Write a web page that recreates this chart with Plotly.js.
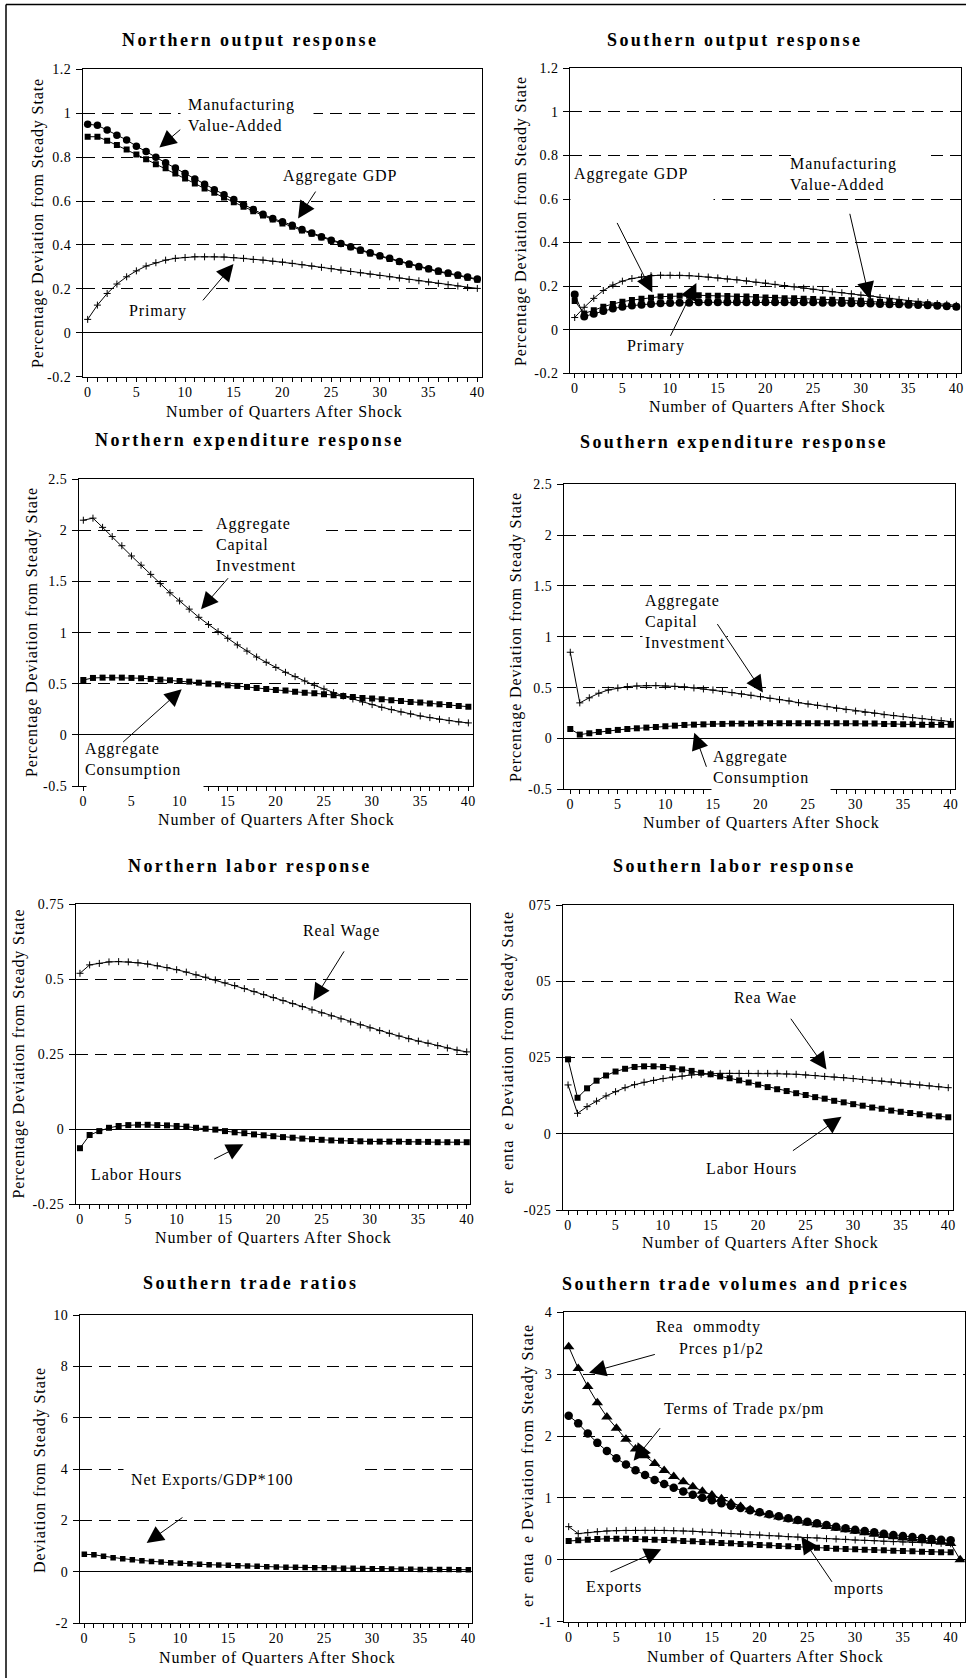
<!DOCTYPE html>
<html>
<head>
<meta charset="utf-8">
<script src="https://cdn.plot.ly/plotly-3.0.1.min.js"></script>
<style>
html,body{margin:0;padding:0;background:#fff;}
#chart{width:966px;height:1678px;}
text.annotation-text{letter-spacing:0.9px;}
text.annotation-text[style*="font-size: 18px"]{letter-spacing:2.4px;}
g[class$="tick"] > text{letter-spacing:0.5px;}
</style>
</head>
<body>
<div id="chart"></div>
<script>
// ---------------- DATA ----------------
const quarters = [0,1,2,3,4,5,6,7,8,9,10,11,12,13,14,15,16,17,18,19,20,21,22,23,24,25,26,27,28,29,30,31,32,33,34,35,36,37,38,39,40];
const quarters41 = [0,1,2,3,4,5,6,7,8,9,10,11,12,13,14,15,16,17,18,19,20,21,22,23,24,25,26,27,28,29,30,31,32,33,34,35,36,37,38,39,40,41];
const xTickVals = [0,5,10,15,20,25,30,35,40];
const xTickText = ['0','5','10','15','20','25','30','35','40'];

// Northern output response
const northMfgVA = [0.95,0.945,0.923,0.90,0.878,0.85,0.826,0.80,0.774,0.75,0.726,0.70,0.677,0.651,0.629,0.607,0.583,0.562,0.54,0.52,0.506,0.49,0.47,0.455,0.437,0.422,0.407,0.392,0.377,0.364,0.351,0.339,0.325,0.313,0.302,0.292,0.281,0.272,0.263,0.254,0.245];
const northGDP = [0.893,0.893,0.875,0.855,0.835,0.812,0.79,0.768,0.749,0.726,0.703,0.68,0.657,0.638,0.616,0.595,0.574,0.554,0.534,0.516,0.498,0.483,0.466,0.451,0.434,0.419,0.404,0.389,0.374,0.361,0.348,0.336,0.322,0.31,0.299,0.289,0.278,0.269,0.26,0.251,0.242];
const northPrimary = [0.061,0.126,0.179,0.222,0.255,0.282,0.304,0.319,0.331,0.339,0.343,0.346,0.346,0.346,0.345,0.342,0.339,0.334,0.331,0.326,0.322,0.316,0.31,0.304,0.298,0.292,0.285,0.279,0.273,0.267,0.261,0.255,0.249,0.243,0.237,0.231,0.225,0.219,0.213,0.206,0.202];
const nOutTickVals = [-0.2,0,0.2,0.4,0.6,0.8,1,1.2];
const nOutTickText = ['-0.2','0','0.2','0.4','0.6','0.8','1','1.2'];

// Southern output response
const southPlusLine = [0.056,0.103,0.144,0.18,0.205,0.223,0.235,0.242,0.248,0.25,0.25,0.25,0.248,0.245,0.242,0.238,0.233,0.229,0.224,0.218,0.214,0.208,0.203,0.197,0.191,0.186,0.18,0.174,0.17,0.165,0.159,0.155,0.148,0.144,0.139,0.133,0.129,0.124,0.12,0.117,0.112];
const southSquareLine = [0.132,0.075,0.089,0.106,0.118,0.129,0.136,0.142,0.147,0.152,0.153,0.156,0.156,0.158,0.156,0.156,0.155,0.153,0.152,0.15,0.148,0.147,0.145,0.144,0.142,0.141,0.139,0.138,0.136,0.135,0.133,0.131,0.129,0.127,0.124,0.121,0.119,0.117,0.114,0.11,0.106];
const southCircleLine = [0.162,0.061,0.073,0.086,0.097,0.105,0.111,0.115,0.118,0.121,0.123,0.124,0.124,0.126,0.126,0.126,0.126,0.126,0.126,0.126,0.126,0.126,0.126,0.126,0.126,0.126,0.124,0.124,0.123,0.122,0.121,0.12,0.118,0.117,0.117,0.115,0.114,0.112,0.11,0.108,0.106];
const sOutTickVals = [-0.2,0,0.2,0.4,0.6,0.8,1,1.2];
const sOutTickText = ['-0.2','0','0.2','0.4','0.6','0.8','1','1.2'];

// Northern expenditure response
const northInvestment = [2.10,2.12,2.03,1.94,1.85,1.75,1.66,1.57,1.48,1.39,1.31,1.23,1.15,1.08,1.01,0.945,0.88,0.82,0.762,0.71,0.66,0.612,0.57,0.527,0.485,0.449,0.413,0.38,0.351,0.322,0.296,0.27,0.247,0.224,0.205,0.185,0.169,0.153,0.14,0.127,0.117];
const northConsumption = [0.537,0.557,0.56,0.56,0.56,0.557,0.554,0.547,0.54,0.534,0.527,0.521,0.511,0.501,0.495,0.485,0.479,0.469,0.459,0.449,0.439,0.433,0.423,0.413,0.407,0.397,0.387,0.381,0.371,0.361,0.355,0.348,0.338,0.332,0.322,0.316,0.306,0.299,0.293,0.283,0.276];
const nExpTickVals = [-0.5,0,0.5,1,1.5,2,2.5];
const nExpTickText = ['-0.5','0','0.5','1','1.5','2','2.5'];

// Southern expenditure response
const southInvestment = [0.848,0.35,0.40,0.445,0.477,0.497,0.51,0.516,0.52,0.52,0.516,0.513,0.507,0.497,0.487,0.477,0.464,0.451,0.438,0.425,0.411,0.395,0.382,0.369,0.352,0.339,0.326,0.313,0.297,0.284,0.27,0.257,0.248,0.234,0.225,0.215,0.205,0.195,0.185,0.175,0.166];
const southConsumption = [0.093,0.038,0.051,0.064,0.074,0.084,0.093,0.1,0.107,0.113,0.12,0.126,0.133,0.136,0.139,0.143,0.143,0.146,0.146,0.146,0.149,0.149,0.149,0.149,0.149,0.149,0.149,0.149,0.149,0.149,0.149,0.146,0.146,0.143,0.143,0.139,0.139,0.136,0.136,0.136,0.136];
const sExpTickVals = [-0.5,0,0.5,1,1.5,2,2.5];
const sExpTickText = ['-0.5','0','0.5','1','1.5','2','2.5'];

// Northern labor response
const northRealWage = [0.519,0.547,0.552,0.557,0.558,0.557,0.554,0.55,0.544,0.538,0.531,0.523,0.514,0.506,0.497,0.487,0.478,0.468,0.458,0.448,0.438,0.428,0.418,0.408,0.397,0.387,0.377,0.367,0.357,0.347,0.337,0.328,0.319,0.31,0.301,0.293,0.286,0.278,0.27,0.263,0.257];
const northLaborHours = [-0.064,-0.02,-0.007,0.004,0.01,0.013,0.014,0.014,0.013,0.012,0.01,0.008,0.004,0.001,-0.002,-0.007,-0.011,-0.014,-0.018,-0.021,-0.024,-0.027,-0.029,-0.032,-0.034,-0.036,-0.038,-0.039,-0.04,-0.041,-0.042,-0.042,-0.042,-0.042,-0.043,-0.043,-0.043,-0.044,-0.044,-0.044,-0.044];
const nLabTickVals = [-0.25,0,0.25,0.5,0.75];
const nLabTickText = ['-0.25','0','0.25','0.5','0.75'];

// Southern labor response
const southLaborHours = [0.244,0.118,0.149,0.174,0.191,0.204,0.213,0.219,0.221,0.221,0.219,0.215,0.211,0.206,0.2,0.195,0.188,0.182,0.175,0.168,0.161,0.153,0.146,0.14,0.133,0.127,0.12,0.115,0.108,0.103,0.097,0.092,0.086,0.082,0.076,0.072,0.068,0.064,0.06,0.057,0.054];
const southRealWage = [0.16,0.067,0.089,0.107,0.124,0.138,0.151,0.161,0.169,0.175,0.181,0.186,0.189,0.193,0.195,0.197,0.198,0.198,0.198,0.198,0.198,0.198,0.198,0.196,0.195,0.193,0.191,0.188,0.186,0.184,0.181,0.178,0.175,0.173,0.17,0.166,0.163,0.16,0.157,0.154,0.151];
const sLabTickVals = [-0.25,0,0.25,0.5,0.75];
const sLabTickText = ['-025','0','025','05','075'];

// Southern trade ratios
const netExportsGDP = [0.685,0.67,0.61,0.555,0.515,0.476,0.437,0.41,0.385,0.36,0.334,0.32,0.295,0.28,0.27,0.255,0.243,0.23,0.217,0.204,0.19,0.184,0.178,0.171,0.165,0.158,0.152,0.146,0.14,0.133,0.126,0.12,0.113,0.107,0.1,0.097,0.095,0.093,0.091,0.089,0.087];
const ratioTickVals = [-2,0,2,4,6,8,10];
const ratioTickText = ['-2','0','2','4','6','8','10'];

// Southern trade volumes and prices
const relCommodityPrices = [3.445,3.09,2.8,2.54,2.31,2.125,1.95,1.79,1.68,1.555,1.445,1.345,1.26,1.18,1.11,1.047,0.988,0.918,0.86,0.81,0.76,0.725,0.69,0.655,0.625,0.595,0.565,0.537,0.51,0.485,0.46,0.437,0.415,0.393,0.372,0.353,0.335,0.317,0.3,0.283,0.265,0];
const termsOfTrade = [2.33,2.205,2.04,1.89,1.757,1.64,1.54,1.446,1.37,1.29,1.225,1.166,1.106,1.053,1.004,0.961,0.913,0.875,0.837,0.8,0.767,0.735,0.703,0.67,0.643,0.617,0.59,0.563,0.536,0.509,0.487,0.466,0.444,0.423,0.401,0.385,0.369,0.353,0.336,0.325,0.315];
const southImports = [0.536,0.423,0.439,0.455,0.466,0.471,0.476,0.476,0.476,0.476,0.476,0.471,0.466,0.461,0.45,0.444,0.433,0.423,0.417,0.407,0.401,0.39,0.385,0.374,0.369,0.358,0.353,0.342,0.336,0.331,0.32,0.315,0.309,0.299,0.293,0.288,0.282,0.277,0.272,0.266,0.26];
const southExports = [0.304,0.315,0.326,0.336,0.342,0.342,0.342,0.336,0.331,0.326,0.32,0.315,0.304,0.299,0.288,0.283,0.272,0.266,0.255,0.25,0.24,0.234,0.223,0.218,0.207,0.202,0.196,0.191,0.18,0.175,0.17,0.164,0.159,0.153,0.148,0.142,0.137,0.132,0.126,0.124,0.121];
const volTickVals = [-1,0,1,2,3,4];
const volTickText = ['-1','0','1','2','3','4'];

// ---------------- LAYOUT HELPERS ----------------
const W = 966, H = 1678;
const FONT = 'Liberation Serif';
const BLACK = '#000';
const px = v => v / W;
const py = v => 1 - v / H;

// panel plot rectangles in pixels: [left, top, right, bottom], x range
const panels = [
  {r:[83,69.3,482,376.7],     xr:[-0.48,40.48], yr:[-0.2,1.2],  tv:nOutTickVals, tt:nOutTickText},
  {r:[570.3,68.3,961,373.3],  xr:[-0.46,40.49], yr:[-0.2,1.2],  tv:sOutTickVals, tt:sOutTickText},
  {r:[79,479.3,472.7,786],    xr:[-0.45,40.45], yr:[-0.5,2.5],  tv:nExpTickVals, tt:nExpTickText},
  {r:[564,484.3,954.7,789.3], xr:[-0.66,40.42], yr:[-0.5,2.5],  tv:sExpTickVals, tt:sExpTickText},
  {r:[76,904,470,1204],       xr:[-0.41,40.34], yr:[-0.25,0.75],tv:nLabTickVals, tt:nLabTickText},
  {r:[563,905,953,1210],      xr:[-0.53,40.5],  yr:[-0.25,0.75],tv:sLabTickVals, tt:sLabTickText},
  {r:[80,1315,471.7,1623.3],  xr:[-0.45,40.35], yr:[-2,10],     tv:ratioTickVals, tt:ratioTickText},
  {r:[564,1312.3,964.7,1621.7],xr:[-0.49,41.47],yr:[-1,4],      tv:volTickVals, tt:volTickText}
];

const layout = {
  width: W, height: H,
  margin: {l:0, r:0, t:0, b:0, pad:0},
  paper_bgcolor: '#fff', plot_bgcolor: '#fff',
  showlegend: false,
  font: {family: FONT, color: BLACK, size: 14},
  annotations: [],
  shapes: []
};

panels.forEach((p, i) => {
  const k = i + 1;
  const s = k === 1 ? '' : String(k);
  layout['xaxis' + s] = {
    domain: [px(p.r[0]), px(p.r[2])],
    range: p.xr,
    anchor: 'y' + s,
    showline: true, linecolor: BLACK, linewidth: 1, mirror: true,
    ticks: 'outside', ticklen: 4, tickwidth: 1, tickcolor: BLACK,
    tickmode: 'array', tickvals: xTickVals, ticktext: xTickText,
    ticklabelstandoff: -2,
    minor: {tickmode: 'linear', tick0: 0, dtick: 1, ticks: 'outside', ticklen: 4, tickwidth: 1, tickcolor: BLACK, showgrid: false},
    showgrid: false, zeroline: false,
    tickfont: {family: FONT, size: 14, color: BLACK},
    fixedrange: true
  };
  layout['yaxis' + s] = {
    domain: [py(p.r[3]), py(p.r[1])],
    range: p.yr,
    anchor: 'x' + s,
    showline: true, linecolor: BLACK, linewidth: 1, mirror: true,
    ticks: 'outside', ticklen: 6, tickwidth: 1, tickcolor: BLACK,
    tickmode: 'array', tickvals: p.tv, ticktext: p.tt,
    ticklabelstandoff: 2,
    showgrid: true, gridcolor: BLACK, gridwidth: 1, griddash: '12px,7px',
    zeroline: true, zerolinecolor: BLACK, zerolinewidth: 1,
    tickfont: {family: FONT, size: 14, color: BLACK},
    fixedrange: true
  };
});

// ---------------- TRACES ----------------
const traces = [];
function series(k, xs, ys, symbol, size) {
  const s = k === 1 ? '' : String(k);
  const thin = symbol.indexOf('thin') >= 0;
  traces.push({
    type: 'scatter', mode: 'lines+markers',
    x: xs, y: ys, xaxis: 'x' + s, yaxis: 'y' + s,
    line: {color: BLACK, width: 1},
    marker: {symbol: symbol, size: size, color: BLACK, line: {color: BLACK, width: thin ? 1 : 0}},
    hoverinfo: 'skip'
  });
}
series(1, quarters, northPrimary, 'cross-thin', 5);
series(1, quarters, northGDP, 'square', 6);
series(1, quarters, northMfgVA, 'circle', 7.5);

series(2, quarters, southPlusLine, 'cross-thin', 5);
series(2, quarters, southSquareLine, 'square', 6);
series(2, quarters, southCircleLine, 'circle', 8);

series(3, quarters, northInvestment, 'cross-thin', 5);
series(3, quarters, northConsumption, 'square', 6);

series(4, quarters, southInvestment, 'cross-thin', 5);
series(4, quarters, southConsumption, 'square', 6);

series(5, quarters, northRealWage, 'cross-thin', 5);
series(5, quarters, northLaborHours, 'square', 6);

series(6, quarters, southRealWage, 'cross-thin', 5);
series(6, quarters, southLaborHours, 'square', 6);

series(7, quarters, netExportsGDP, 'square', 5.5);

series(8, quarters, southImports, 'cross-thin', 5);
series(8, quarters, southExports, 'square', 6);
series(8, quarters, termsOfTrade, 'circle', 8.5);
series(8, quarters41, relCommodityPrices, 'triangle-up', 10);

// ---------------- ANNOTATIONS ----------------
const A = layout.annotations;
function ax(k){ return k === 1 ? '' : String(k); }
// white boxes behind labels (hide the dashed grid where the label boxes sit)
function mask(k, x, y, w, h) {
  A.push({xref:'x'+ax(k), yref:'y'+ax(k), x:x, y:y, text:' ', showarrow:false,
    bgcolor:'#fff', width:w, height:h, borderpad:0, font:{size:6}});
}
function label(k, x, y, text) {
  A.push({xref:'x'+ax(k), yref:'y'+ax(k), x:x, y:y, text:text, showarrow:false,
    align:'left', xanchor:'center', yanchor:'middle',
    font:{family:FONT, size:16, color:BLACK}});
}
function arrow(k, hx, hy, tx, ty) {
  A.push({xref:'x'+ax(k), yref:'y'+ax(k), axref:'x'+ax(k), ayref:'y'+ax(k),
    x:hx, y:hy, ax:tx, ay:ty, text:'', showarrow:true,
    arrowhead:2, arrowsize:3.4, arrowwidth:1, arrowcolor:BLACK, standoff:0});
}
function paperText(x, y, text, size, bold, angle) {
  A.push({xref:'paper', yref:'paper', x:px(x), y:py(y), text:text, showarrow:false,
    xanchor:'center', yanchor:'middle', textangle: angle || 0,
    font:{family:FONT, size:size, color:BLACK, weight: bold ? 700 : 400}});
}

// masks
mask(1, 16.4, 1.0, 132, 8);
mask(2, 7.08, 0.6, 142, 8);
mask(2, 29.95, 0.8, 134, 8);
mask(3, 18.8, 2.0, 122, 8);
mask(3, 6.44, -0.315, 116, 54);
mask(4, 11.99, 1.0, 83, 8);
mask(4, 21.07, -0.29, 118, 54);
mask(7, 16.48, 4.0, 238, 8);

// Panel 1
label(1, 15.8, 0.99, 'Manufacturing<br>Value-Added');
arrow(1, 7.36, 0.844, 9.66, 0.931);
label(1, 25.9, 0.714, 'Aggregate GDP');
arrow(1, 21.6, 0.521, 23.5, 0.65);
label(1, 7.26, 0.10, 'Primary');
arrow(1, 14.97, 0.313, 11.7, 0.141);

// Panel 2
label(2, 5.94, 0.716, 'Aggregate GDP');
arrow(2, 8.14, 0.171, 4.37, 0.497);
label(2, 28.2, 0.716, 'Manufacturing<br>Value-Added');
arrow(2, 30.9, 0.141, 28.8, 0.539);
label(2, 8.5, -0.075, 'Primary');
arrow(2, 12.75, 0.214, 9.96, -0.035);

// Panel 3
label(3, 17.9, 1.867, 'Aggregate<br>Capital<br>Investment');
arrow(3, 12.23, 1.228, 15.17, 1.547);
label(3, 5.16, -0.239, 'Aggregate<br>Consumption');
arrow(3, 10.22, 0.446, 3.98, -0.083);

// Panel 4
label(4, 12.02, 1.152, 'Aggregate<br>Capital<br>Investment');
arrow(4, 20.26, 0.451, 15.36, 1.14);
label(4, 20.05, -0.29, 'Aggregate<br>Consumption');
arrow(4, 13.04, 0.057, 14.37, -0.293);

// Panel 5
label(5, 27.07, 0.66, 'Real Wage');
arrow(5, 24.14, 0.428, 27.41, 0.597);
label(5, 5.86, -0.151, 'Labor Hours');
arrow(5, 16.9, -0.051, 13.72, -0.103);

// Panel 6
label(6, 20.77, 0.447, 'Rea Wae');
arrow(6, 27.19, 0.211, 23.33, 0.382);
label(6, 19.33, -0.114, 'Labor Hours');
arrow(6, 28.77, 0.056, 23.5, -0.059);

// Panel 7
label(7, 13.33, 3.56, 'Net Exports/GDP*100');
arrow(7, 6.49, 1.125, 10.38, 2.16);

// Panel 8
label(8, 14.62, 3.757, 'Rea  ommodty');
label(8, 16.05, 3.406, 'Prces p1/p2');
arrow(8, 2.13, 3.024, 9.18, 3.326);
label(8, 18.32, 2.437, 'Terms of Trade px/pm');
arrow(8, 6.8, 1.6, 9.7, 2.152);
label(8, 4.71, -0.445, 'Exports');
arrow(8, 9.7, 0.17, 4.22, -0.208);
label(8, 30.37, -0.472, 'mports');
arrow(8, 24.36, 0.374, 27.68, -0.38);

// Panel titles
paperText(250, 40, 'Northern output response', 18, true);
paperText(734, 40, 'Southern output response', 18, true);
paperText(249, 440, 'Northern expenditure response', 18, true);
paperText(734, 442, 'Southern expenditure response', 18, true);
paperText(250, 866, 'Northern labor response', 18, true);
paperText(734, 866, 'Southern labor response', 18, true);
paperText(250, 1283, 'Southern trade ratios', 18, true);
paperText(735, 1284, 'Southern trade volumes and prices', 18, true);

// X axis titles
const xTitle = 'Number of Quarters After Shock';
paperText(284, 411.5, xTitle, 16, false);
paperText(767, 407, xTitle, 16, false);
paperText(276, 819, xTitle, 16, false);
paperText(761, 822.5, xTitle, 16, false);
paperText(273, 1237.5, xTitle, 16, false);
paperText(760, 1242.5, xTitle, 16, false);
paperText(277.5, 1657.5, xTitle, 16, false);
paperText(765.5, 1656, xTitle, 16, false);

// Y axis titles
const yTitle = 'Percentage Deviation from Steady State';
const yTitleCut = 'er  enta  e Deviation from Steady State';
paperText(38, 223, yTitle, 16, false, -90);
paperText(521, 221, yTitle, 16, false, -90);
paperText(32, 632, yTitle, 16, false, -90);
paperText(516, 637, yTitle, 16, false, -90);
paperText(18.5, 1054, yTitle, 16, false, -90);
paperText(508, 1052, yTitleCut, 16, false, -90);
paperText(40, 1470, 'Deviation from Steady State', 16, false, -90);
paperText(528, 1466, yTitleCut, 16, false, -90);

// outer figure frame (left and top edges)
layout.shapes.push({type:'line', xref:'paper', yref:'paper', x0:px(6), x1:px(6), y0:0, y1:py(4.5), line:{color:BLACK, width:1.5}});
layout.shapes.push({type:'line', xref:'paper', yref:'paper', x0:px(6), x1:1, y0:py(4.5), y1:py(4.5), line:{color:BLACK, width:1.5}});

Plotly.newPlot('chart', traces, layout, {staticPlot: true, displayModeBar: false});
</script>
</body>
</html>
